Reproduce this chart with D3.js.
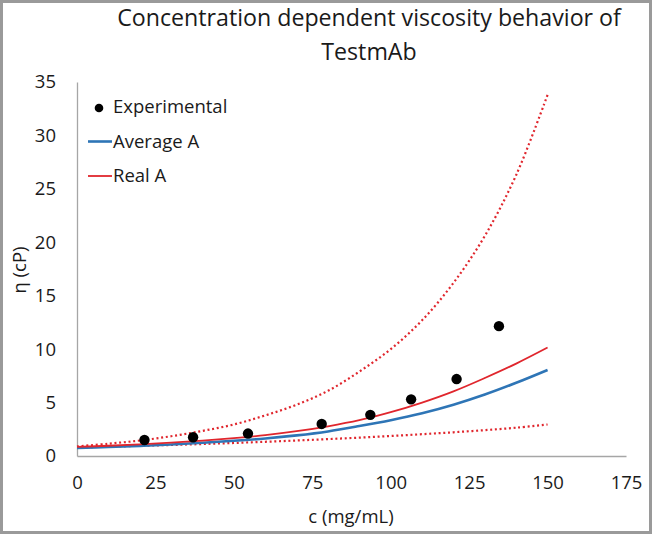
<!DOCTYPE html>
<html>
<head>
<meta charset="utf-8">
<script src="https://cdn.jsdelivr.net/npm/d3@7"></script>
<style>
  html, body { margin: 0; padding: 0; background: #fff; }
  svg { display: block; }
  text { font-family: "Open Sans", sans-serif; fill: #1a1a1a; }
</style>
</head>
<body>
<svg id="chart" width="652" height="534"></svg>
<script>
// ---- data ----
const titleLines = ["Concentration dependent viscosity behavior of", "TestmAb"];
const xLabel = "c (mg/mL)";
const yLabel = "η (cP)";
const xTicks = [0, 25, 50, 75, 100, 125, 150, 175];
const yTicks = [0, 5, 10, 15, 20, 25, 30, 35];

const expC   = [21.5, 37, 54.5, 78, 93.5, 106.5, 121, 134.5];
const expEta = [1.5, 1.75, 2.1, 3.0, 3.85, 5.3, 7.2, 12.15];

const curveC     = [0, 10, 20, 30, 40, 50, 60, 70, 80, 90, 100, 110, 120, 130, 140, 150];
const averageA   = [0.75, 0.84, 0.95, 1.08, 1.24, 1.42, 1.64, 1.93, 2.3, 2.8, 3.35, 4.0, 4.8, 5.75, 6.85, 8.05];
const realA      = [0.85, 0.96, 1.09, 1.25, 1.44, 1.67, 1.95, 2.32, 2.78, 3.35, 4.1, 5.0, 6.05, 7.3, 8.65, 10.15];
const realAUpper = [0.9, 1.15, 1.45, 1.85, 2.35, 2.95, 3.8, 4.8, 6.1, 7.9, 10.0, 12.7, 16.2, 20.6, 26.3, 33.8];
const realALower = [0.8, 0.87, 0.95, 1.03, 1.12, 1.22, 1.33, 1.45, 1.58, 1.72, 1.87, 2.04, 2.22, 2.42, 2.65, 2.95];

const legendItems = [
  {label: "Experimental", type: "dot"},
  {label: "Average A", type: "blue"},
  {label: "Real A", type: "red"}
];

// ---- styles ----
const BLUE = "#2e75b6";
const RED = "#e0262d";
const AXIS = "#a6a6a6";

const svg = d3.select("#chart");

// outer frame
svg.append("rect").attr("x", 1.5).attr("y", 1.5).attr("width", 649).attr("height", 531)
  .attr("fill", "#fff").attr("stroke", "#9a9a9a").attr("stroke-width", 3);

const x = d3.scaleLinear().domain([0, 175]).range([77, 626]);
const y = d3.scaleLinear().domain([0, 35]).range([456, 82]);

// title
svg.append("text").attr("x", 369).attr("y", 26).attr("text-anchor", "middle")
  .style("font-size", "23.2px").text(titleLines[0]);
svg.append("text").attr("x", 369).attr("y", 60).attr("text-anchor", "middle")
  .style("font-size", "23.2px").text(titleLines[1]);

// axes
const xAxis = d3.axisBottom(x).tickValues(xTicks).tickSize(0).tickPadding(20).tickFormat(d3.format("d"));
const gx = svg.append("g").attr("transform", `translate(0,${y(0)})`).call(xAxis);
gx.select(".domain").attr("stroke", AXIS).attr("stroke-width", 1.3);
gx.selectAll("text").style("font-size", "18.5px").style("font-family", "'Open Sans', sans-serif").attr("fill", "#1a1a1a");

const yAxis = d3.axisLeft(y).tickValues(yTicks).tickSize(0).tickPadding(21).tickFormat(d3.format("d"));
const gy = svg.append("g").attr("transform", `translate(${x(0)},0)`).call(yAxis);
gy.select(".domain").attr("stroke", AXIS).attr("stroke-width", 1.3);
gy.selectAll("text").style("font-size", "18.5px").style("font-family", "'Open Sans', sans-serif").attr("fill", "#1a1a1a");

// axis titles
svg.append("text").attr("x", 351).attr("y", 523).attr("text-anchor", "middle")
  .style("font-size", "18.5px").text(xLabel);
svg.append("text").attr("transform", "translate(26,270) rotate(-90)").attr("text-anchor", "middle")
  .style("font-size", "18.5px").text(yLabel);

// curves
const line = d3.line().x(d => x(d[0])).y(d => y(d[1])).curve(d3.curveCatmullRom);
const zip = arr => curveC.map((c, i) => [c, arr[i]]);

const plot = svg.append("g");
plot.append("path").datum(zip(realAUpper)).attr("d", line).attr("fill", "none")
  .attr("stroke", RED).attr("stroke-width", 2.2).attr("stroke-dasharray", "2,2.7");
plot.append("path").datum(zip(realALower)).attr("d", line).attr("fill", "none")
  .attr("stroke", RED).attr("stroke-width", 2.2).attr("stroke-dasharray", "2,2.7");
plot.append("path").datum(zip(averageA)).attr("d", line).attr("fill", "none")
  .attr("stroke", BLUE).attr("stroke-width", 2.6);
plot.append("path").datum(zip(realA)).attr("d", line).attr("fill", "none")
  .attr("stroke", RED).attr("stroke-width", 1.8);

// experimental points
plot.selectAll("circle.exp").data(expC.map((c, i) => [c, expEta[i]])).enter()
  .append("circle").attr("class", "exp")
  .attr("cx", d => x(d[0])).attr("cy", d => y(d[1])).attr("r", 5.2).attr("fill", "#000");

// legend
const lg = svg.append("g");
legendItems.forEach((it, i) => {
  const cy = 107 + i * 34.5;
  if (it.type === "dot") {
    lg.append("circle").attr("cx", 99).attr("cy", cy + 1).attr("r", 4.3).attr("fill", "#000");
  } else {
    lg.append("line").attr("x1", 88).attr("x2", 112).attr("y1", cy).attr("y2", cy)
      .attr("stroke", it.type === "blue" ? BLUE : RED)
      .attr("stroke-width", it.type === "blue" ? 2.6 : 1.8);
  }
  lg.append("text").attr("x", 113).attr("y", cy).attr("dy", "0.35em")
    .style("font-size", "18.5px").text(it.label);
});
</script>
</body>
</html>
